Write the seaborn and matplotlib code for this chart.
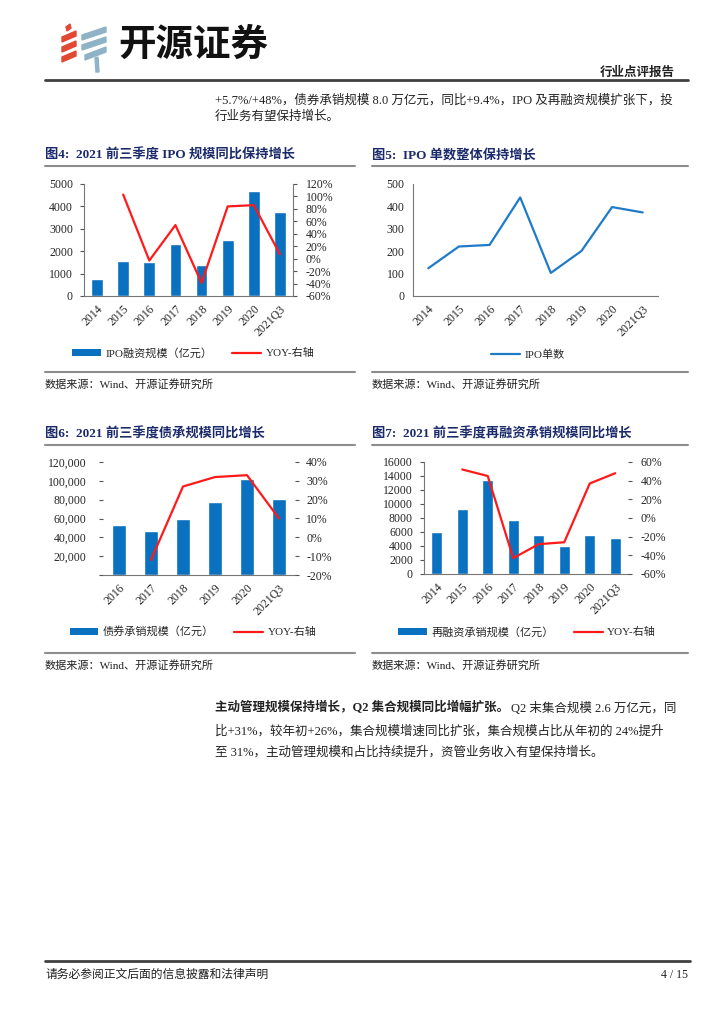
import numpy as np
import pandas as pd
import seaborn as sns
import matplotlib.pyplot as plt
from matplotlib.lines import Line2D
from matplotlib.patches import Patch, Polygon
from matplotlib.ticker import FuncFormatter, MultipleLocator

# data
years8 = ['2014', '2015', '2016', '2017', '2018', '2019', '2020', '2021Q3']
years6 = ['2016', '2017', '2018', '2019', '2020', '2021Q3']

ipo_amount = [750, 1580, 1500, 2310, 1380, 2500, 4700, 3760]
ipo_yoy = [np.nan, 103, -3, 54, -39, 84, 86, 7]
ipo_count = [124, 221, 228, 440, 103, 201, 397, 373]
bond_amount = [52900, 46900, 59300, 77100, 102300, 81000]
bond_yoy = [np.nan, -12, 27, 32, 33, 10]
refi_amount = [6050, 9290, 13480, 7760, 5520, 4050, 5620, 5140]
refi_yoy = [np.nan, 52, 45, -43, -28, -26, 37, 48]

BLUE = '#0A70C0'
LINE_BLUE = '#1F7BC8'
RED = '#FF1A1A'
NAVY = '#1B2A6B'
GRAY = '#8C8C8C'
TXT = '#222222'
TICK_FS = 8.5

sns.set_style('white')
plt.rcParams['font.family'] = ['Liberation Serif', 'Noto Sans CJK SC']
plt.rcParams['axes.unicode_minus'] = False

W, H = 724, 1024
fig = plt.figure(figsize=(W / 100, H / 100), dpi=100)


def fx(x):
    return x / W


def fy(y):
    return 1 - y / H


def rect(x0, y0, x1, y1):
    return [x0 / W, 1 - y1 / H, (x1 - x0) / W, (y1 - y0) / H]


def hline(x0, x1, y, color=GRAY, lw=1.5):
    fig.add_artist(Line2D([fx(x0), fx(x1)], [fy(y), fy(y)], color=color, lw=lw,
                          transform=fig.transFigure))


def text(x, y, s, **kw):
    kw.setdefault('va', 'center')
    kw.setdefault('fontsize', 9)
    kw.setdefault('color', TXT)
    return fig.text(fx(x), fy(y), s, **kw)


# ---- page header ----
logo = fig.add_axes(rect(55, 20, 115, 75))
logo.set_xlim(55, 115)
logo.set_ylim(75, 20)
logo.axis('off')
for y0 in [37, 47, 57]:
    logo.add_patch(Polygon([(62, y0), (76, y0 - 6), (76, y0 - 1), (62, y0 + 5)], color='#E04A33'))
logo.add_patch(Polygon([(66, 27), (70, 24), (71, 28), (67, 31)], color='#E04A33'))
for y0, xl in [(35, 82), (45, 82), (55, 85)]:
    logo.add_patch(Polygon([(xl, y0), (106, y0 - 8), (106, y0 - 3), (xl, y0 + 5)], color='#8FB3C6'))
logo.add_patch(Polygon([(95, 58), (98, 57), (99, 72), (96, 72)], color='#8FB3C6'))

text(118, 44, '开源证券', fontsize=27, weight='bold', color='#111111',
     family=['Noto Sans CJK SC'])
text(675, 73, '行业点评报告', ha='right', fontsize=9, weight='bold')
hline(45, 688, 80, color='#404040', lw=2)

text(215, 100, '+5.7%/+48%，债券承销规模 8.0 万亿元，同比+9.4%，IPO 及再融资规模扩张下，投')
text(215, 117, '行业务有望保持增长。')


# ---- chart helpers ----
def chart_frame(x0, x1, title, src_line_y, title_y):
    text(x0, title_y, title, fontsize=9.5, weight='bold', color=NAVY)
    hline(x0, x1, title_y + 11)
    hline(x0, x1, src_line_y)
    text(x0, src_line_y + 12, '数据来源：Wind、开源证券研究所', fontsize=8)


def style_x(ax, cats):
    n = len(cats)
    ax.set_xlim(-0.5, n - 0.5)
    ax.set_xticks(range(n))
    ax.set_xticklabels(cats, rotation=45, ha='right', rotation_mode='anchor', fontsize=TICK_FS)
    ax.set_xticks(np.arange(n + 1) - 0.5, minor=True)
    ax.tick_params(axis='x', which='major', length=0, pad=5)
    ax.tick_params(axis='x', which='minor', length=3, color='#555555', direction='out')
    ax.set_xlabel('')
    ax.spines['bottom'].set_color('#777777')
    ax.spines['bottom'].set_linewidth(0.8)


def bar_line(box, cats, amounts, yoy, left_lim, left_step, right_lim, right_step,
             left_fmt, show_left_spine, show_right_spine, left_pad=3, right_pad=3):
    ax = fig.add_axes(box)
    df = pd.DataFrame({'year': cats, 'amount': amounts, 'yoy': yoy})
    df['pos'] = np.arange(len(df))
    sns.barplot(data=df, x='year', y='amount', color=BLUE, saturation=1, width=0.45, ax=ax)
    ax2 = ax.twinx()
    line_df = df.dropna()
    sns.lineplot(data=line_df, x='pos', y='yoy', color=RED, lw=1.6, ax=ax2)
    style_x(ax, cats)
    ax.set_ylim(*left_lim)
    ax.yaxis.set_major_locator(MultipleLocator(left_step))
    ax.yaxis.set_major_formatter(FuncFormatter(left_fmt))
    ax2.set_ylim(*right_lim)
    ax2.yaxis.set_major_locator(MultipleLocator(right_step))
    ax2.yaxis.set_major_formatter(FuncFormatter(lambda v, _: f'{v:.0f}%'))
    ax.set_ylabel('')
    ax2.set_ylabel('')
    ax2.set_xlabel('')
    ax.tick_params(axis='y', labelsize=TICK_FS, length=3, color='#555555', pad=left_pad)
    ax2.tick_params(axis='y', labelsize=TICK_FS, length=3, color='#555555', pad=right_pad)
    for a in (ax, ax2):
        a.spines['top'].set_visible(False)
    ax.spines['right'].set_visible(False)
    ax2.spines['left'].set_visible(False)
    ax2.spines['bottom'].set_visible(False)
    ax.spines['left'].set_visible(show_left_spine)
    ax2.spines['right'].set_visible(show_right_spine)
    ax.spines['left'].set_color('#777777')
    ax2.spines['right'].set_color('#777777')
    ax.spines['left'].set_linewidth(0.8)
    ax2.spines['right'].set_linewidth(0.8)
    return ax, ax2


def bar_legend(cx, cy, bar_label):
    handles = [Patch(facecolor=BLUE, edgecolor='none'),
               Line2D([0], [0], color=RED, lw=1.6)]
    fig.legend(handles, [bar_label, 'YOY-右轴'], loc='center', ncol=2,
               bbox_to_anchor=(fx(cx), fy(cy)), frameon=False, fontsize=8,
               handlelength=2.6, handleheight=0.6, columnspacing=1.8, handletextpad=0.4)


# ---- 图4 ----
chart_frame(45, 355, '图4:  2021 前三季度 IPO 规模同比保持增长', 372, 155)
bar_line(rect(84, 184, 293, 296), years8, ipo_amount, ipo_yoy,
         (0, 5000), 1000, (-60, 120), 20, lambda v, _: f'{v:.0f}', True, True,
         left_pad=5, right_pad=6)
bar_legend(193, 353, 'IPO融资规模（亿元）')

# ---- 图5 ----
chart_frame(372, 688, '图5:  IPO 单数整体保持增长', 372, 155)
ax5 = fig.add_axes(rect(413, 184, 658, 296))
count_df = pd.DataFrame({'year': years8, 'count': ipo_count})
count_df['pos'] = np.arange(len(count_df))
sns.lineplot(data=count_df, x='pos', y='count', color=LINE_BLUE, lw=1.6, ax=ax5)
style_x(ax5, years8)
ax5.set_ylim(0, 500)
ax5.yaxis.set_major_locator(MultipleLocator(100))
ax5.set_ylabel('')
ax5.tick_params(axis='y', labelsize=TICK_FS, length=3, color='#555555', pad=3)
ax5.spines['top'].set_visible(False)
ax5.spines['right'].set_visible(False)
ax5.spines['left'].set_color('#777777')
ax5.spines['left'].set_linewidth(0.8)
fig.legend([Line2D([0], [0], color=LINE_BLUE, lw=1.6)], ['IPO单数'], loc='center',
           bbox_to_anchor=(fx(528), fy(355)), frameon=False, fontsize=8,
           handlelength=2.6, handletextpad=0.4)

# ---- 图6 ----
chart_frame(45, 355, '图6:  2021 前三季度债承规模同比增长', 653, 434)
bar_line(rect(103, 462, 295, 575), years6, bond_amount, bond_yoy,
         (0, 120000), 20000, (-20, 40), 10,
         lambda v, _: '' if v == 0 else f'{v:,.0f}', False, False,
         left_pad=9, right_pad=5)
bar_legend(193, 632, '债券承销规模（亿元）')

# ---- 图7 ----
chart_frame(372, 688, '图7:  2021 前三季度再融资承销规模同比增长', 653, 434)
bar_line(rect(424, 462, 628, 574), years8, refi_amount, refi_yoy,
         (0, 16000), 2000, (-60, 60), 20, lambda v, _: f'{v:.0f}', True, False,
         left_pad=5, right_pad=6)
bar_legend(527, 632, '再融资承销规模（亿元）')

# ---- bottom paragraph ----
bold_part = text(215, 708, '主动管理规模保持增长，Q2 集合规模同比增幅扩张。', weight='bold')
renderer = fig.canvas.get_renderer()
bb = bold_part.get_window_extent(renderer=renderer)
fig.text(bb.x1 / fig.bbox.width + 0.002, fy(708), 'Q2 末集合规模 2.6 万亿元，同',
         va='center', fontsize=9, color=TXT)
text(215, 731, '比+31%，较年初+26%，集合规模增速同比扩张，集合规模占比从年初的 24%提升')
text(215, 752, '至 31%，主动管理规模和占比持续提升，资管业务收入有望保持增长。')

# ---- footer ----
hline(45, 690, 961, color='#404040', lw=2)
text(45, 975, '请务必参阅正文后面的信息披露和法律声明', fontsize=8.5)
text(688, 975, '4 / 15', ha='right', fontsize=8.5)

fig.savefig('out.png', dpi=100)
